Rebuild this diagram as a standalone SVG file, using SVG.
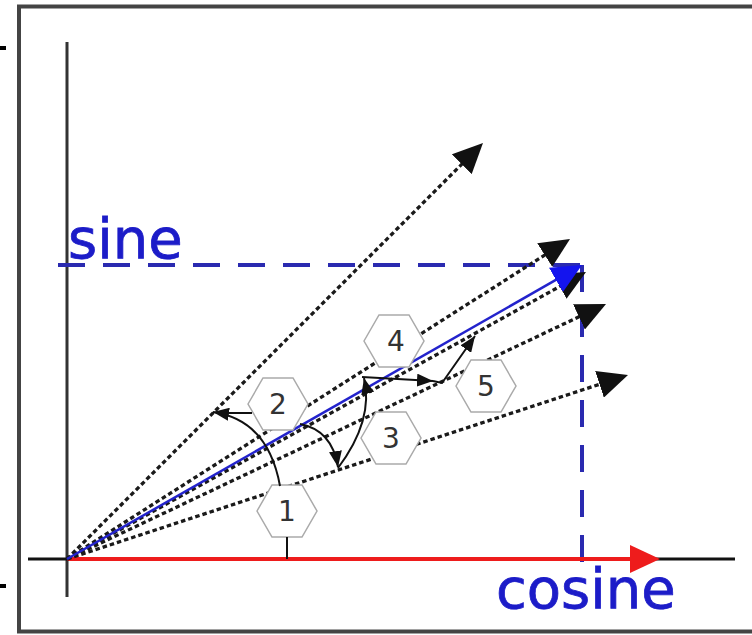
<svg xmlns="http://www.w3.org/2000/svg" width="752" height="635" viewBox="0 0 752 635">
<style>
.axis{stroke:#333;stroke-width:3;fill:none}
.proj{stroke:#2a2ab0;stroke-width:4;stroke-dasharray:27 18;fill:none}
.vec{stroke:#1a1a1a;stroke-width:3.3;stroke-dasharray:4.5 3;fill:none;marker-end:url(#ah)}
.arc{stroke:#111;stroke-width:2;fill:none}
.arcA{stroke:#111;stroke-width:2;fill:none;marker-end:url(#sa)}
.hex{fill:#fff;stroke:#aaa;stroke-width:1.5}
.num{font-family:"DejaVu Sans",sans-serif;font-size:28px;fill:#333;text-anchor:middle}
.lbl{font-family:"DejaVu Sans",sans-serif;font-size:56px;fill:#1c1cc8;stroke:#1c1cc8;stroke-width:0.8}
</style>
<defs>
<marker id="ah" markerUnits="userSpaceOnUse" markerWidth="30" markerHeight="28" viewBox="0 0 30 28" refX="18" refY="14" orient="auto"><path d="M0,0 L30,14 L0,28 z" fill="#111"/></marker>
<marker id="ahb" markerUnits="userSpaceOnUse" markerWidth="30" markerHeight="28" viewBox="0 0 30 28" refX="18" refY="14" orient="auto"><path d="M0,0 L30,14 L0,28 z" fill="#1414ee"/></marker>
<marker id="ahr" markerUnits="userSpaceOnUse" markerWidth="30" markerHeight="28" viewBox="0 0 30 28" refX="18" refY="14" orient="auto"><path d="M0,0 L30,14 L0,28 z" fill="#ee1c1c"/></marker>
<marker id="sa" markerUnits="userSpaceOnUse" markerWidth="16" markerHeight="13" viewBox="0 0 16 13" refX="16" refY="6.5" orient="auto"><path d="M0,0 L16,6.5 L0,13 z" fill="#111"/></marker>
<polygon id="hx" points="-30,0 -15,-26 15,-26 30,0 15,26 -15,26"/>
</defs>
<rect width="752" height="635" fill="#fff"/>
<rect x="19" y="6.5" width="745" height="625" fill="#fff" stroke="#444" stroke-width="4"/>
<rect x="0" y="46" width="6" height="4" fill="#000"/>
<rect x="0" y="584" width="6" height="4" fill="#000"/>
<g id="axes">
<line class="axis" x1="67" y1="42" x2="67" y2="597"/>
<line x1="28" y1="559" x2="735" y2="559" stroke="#111" stroke-width="3"/>
</g>
<g id="projections">
<line class="proj" x1="58" y1="265" x2="582" y2="265"/>
<line class="proj" x1="582" y1="265" x2="582" y2="562"/>
</g>
<g id="connectors">
<line x1="67" y1="559" x2="648" y2="559" stroke="#ee1c1c" stroke-width="4" marker-end="url(#ahr)"/>
<line class="vec" x1="67" y1="559" x2="474.5" y2="151.5"/>
<line class="vec" x1="67" y1="559" x2="559.9" y2="245.4"/>
<line class="vec" x1="67" y1="559" x2="595.2" y2="309.1"/>
<line class="vec" x1="67" y1="559" x2="616.6" y2="378.7"/>
<line class="vec" x1="67" y1="559" x2="575.5" y2="277.8"/>
<line x1="67" y1="559" x2="571.6" y2="270.9" stroke="#2323cc" stroke-width="2.5" marker-end="url(#ahb)"/>
</g>
<g id="hex1"><use href="#hx" class="hex" x="287" y="511"/><text class="num" x="287" y="521">1</text></g>
<g id="hex2"><use href="#hx" class="hex" x="278" y="404"/><text class="num" x="278" y="414">2</text></g>
<g id="hex3"><use href="#hx" class="hex" x="391" y="438"/><text class="num" x="391" y="448">3</text></g>
<g id="hex4"><use href="#hx" class="hex" x="394" y="341"/><text class="num" x="396" y="351">4</text></g>
<g id="hex5"><use href="#hx" class="hex" x="486" y="386"/><text class="num" x="486" y="396">5</text></g>
<g id="arcs">
<line class="arc" x1="287" y1="537" x2="287" y2="559"/>
<path class="arcA" d="M280,486 Q268,420 213,412"/>
<line class="arc" x1="216" y1="413" x2="252" y2="413"/>
<path class="arcA" d="M300,424 Q332,430 338,467"/>
<path class="arcA" d="M338,468 Q374,420 364,378"/>
<path class="arcA" d="M362,377 L433,381"/>
<path class="arcA" d="M433,381 L442,383 L475,336"/>
</g>
<g id="labels">
<text class="lbl" x="68" y="258">sine</text>
<text class="lbl" x="496" y="608">cosine</text>
</g>
</svg>
